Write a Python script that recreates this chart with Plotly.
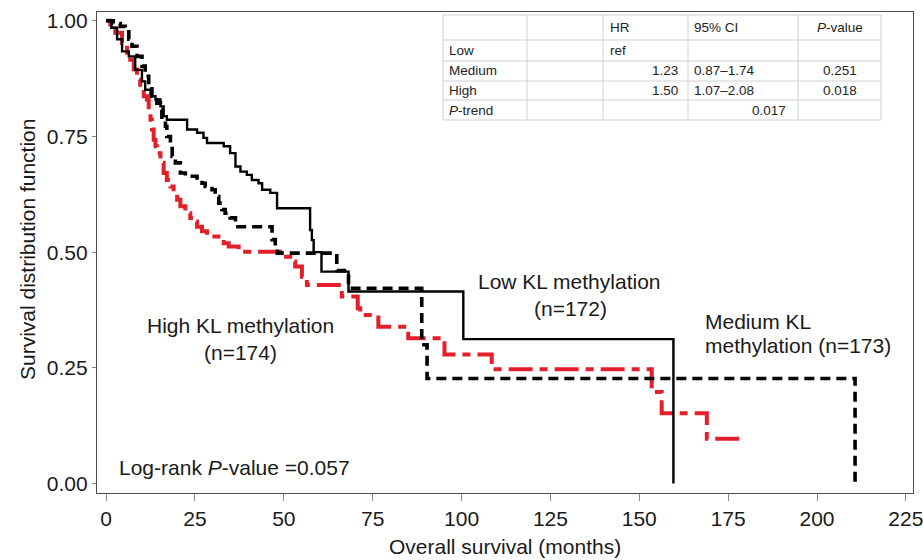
import plotly.graph_objects as go

# ---------------- data ----------------
low_t = [0, 1.5, 3.1, 4.5, 6.4, 8.2, 10.1, 11.0, 12.5, 13.9, 15.3, 16.2, 17.1, 22.8, 25.6,
         27.4, 28.4, 33.1, 34.9, 36.4, 37.8, 39.6, 41.0, 42.9, 43.9, 46.2, 48.1, 57.4, 57.9,
         58.4, 60.6, 68.2, 100.5, 159.6]
low_s = [1.0, 0.985, 0.960, 0.934, 0.923, 0.894, 0.869, 0.851, 0.837, 0.830, 0.815, 0.794,
         0.786, 0.765, 0.758, 0.747, 0.736, 0.729, 0.714, 0.685, 0.674, 0.667, 0.656, 0.649,
         0.635, 0.628, 0.595, 0.548, 0.526, 0.500, 0.458, 0.415, 0.312, 0.0]

med_t = [0, 2.0, 4.0, 5.4, 6.4, 7.3, 8.7, 10.1, 11.0, 12.0, 12.9, 14.3, 15.3, 15.7, 16.7,
         17.1, 18.1, 18.6, 19.5, 20.9, 22.3, 25.6, 27.0, 27.9, 29.8, 30.7, 31.7, 32.6, 33.5,
         34.9, 36.4, 46.7, 47.6, 48.2, 64.9, 68.2, 88.8, 90.3, 210.7]
med_s = [1.0, 0.994, 0.988, 0.981, 0.960, 0.945, 0.923, 0.902, 0.880, 0.858, 0.837, 0.822,
         0.808, 0.786, 0.772, 0.750, 0.729, 0.707, 0.693, 0.671, 0.664, 0.656, 0.649, 0.642,
         0.635, 0.620, 0.606, 0.592, 0.584, 0.574, 0.555, 0.527, 0.509, 0.498, 0.460, 0.422,
         0.300, 0.227, 0.0]

high_t = [0, 1.2, 2.6, 4.5, 5.9, 6.8, 7.8, 8.7, 9.6, 10.6, 11.5, 12.0, 12.5, 12.9, 13.4,
          13.9, 14.3, 15.3, 16.2, 17.1, 18.1, 19.0, 20.0, 20.9, 22.3, 23.7, 24.6, 25.6, 27.0,
          28.4, 31.6, 33.1, 34.5, 37.3, 49.0, 49.9, 51.8, 53.2, 55.1, 56.5, 66.3, 70.8, 71.5,
          76.6, 85.0, 95.2, 108.5, 153.5, 156.3, 169.0, 179.7]
high_s = [1.0, 0.992, 0.974, 0.952, 0.931, 0.916, 0.895, 0.873, 0.851, 0.837, 0.830, 0.808,
          0.786, 0.765, 0.743, 0.729, 0.714, 0.693, 0.671, 0.656, 0.642, 0.631, 0.613, 0.599,
          0.584, 0.574, 0.566, 0.555, 0.545, 0.534, 0.529, 0.519, 0.512, 0.501, 0.494, 0.490,
          0.480, 0.469, 0.447, 0.429, 0.404, 0.379, 0.364, 0.339, 0.314, 0.279, 0.247, 0.198,
          0.152, 0.097, 0.097]

x_ticks = [0, 25, 50, 75, 100, 125, 150, 175, 200, 225]
y_ticks = [0.0, 0.25, 0.50, 0.75, 1.00]
y_tick_labels = ["0.00", "0.25", "0.50", "0.75", "1.00"]

table_header = ["", "", "HR", "95% CI", "<i>P</i>-value"]
table_rows = [
    ["Low", "", "ref", "", ""],
    ["Medium", "", "1.23", "0.87–1.74", "0.251"],
    ["High", "", "1.50", "1.07–2.08", "0.018"],
    ["<i>P</i>-trend", "", "", "0.017", ""],
]

# ---------------- layout geometry ----------------
W, H = 923, 560
L_REF, R_REF, T_REF, B_REF = 97, 913, 12, 493       # plot frame in window pixels
ML, MT = L_REF, T_REF
MR, MB = W - R_REF, H - B_REF
PW, PH = W - ML - MR, H - MT - MB

def pxx(x):   # window pixel -> paper x
    return (x - L_REF) / PW

def pxy(y):   # window pixel -> paper y
    return (B_REF - y) / PH

FONT = "Liberation Sans, Arial, sans-serif"
RED = "#E3202A"

fig = go.Figure()
fig.add_trace(go.Scatter(x=high_t, y=high_s, mode="lines", line_shape="hv",
                         line=dict(color=RED, width=4, dash="8px,7px,24px,7px"),
                         name="High", showlegend=False, hoverinfo="skip"))
fig.add_trace(go.Scatter(x=med_t, y=med_s, mode="lines", line_shape="hv",
                         line=dict(color="black", width=3.6, dash="10px,6px"),
                         name="Medium", showlegend=False, hoverinfo="skip"))
fig.add_trace(go.Scatter(x=low_t, y=low_s, mode="lines", line_shape="hv",
                         line=dict(color="black", width=2.4),
                         name="Low", showlegend=False, hoverinfo="skip"))

fig.update_layout(
    width=W, height=H,
    margin=dict(l=ML, r=MR, t=MT, b=MB, autoexpand=False),
    paper_bgcolor="white", plot_bgcolor="white",
    font=dict(family=FONT, size=21, color="#1a1a1a"),
    xaxis=dict(range=[-2.55, 227.0], tickvals=x_ticks, ticks="outside", ticklen=7,
               tickcolor="#888", tickwidth=1, showline=True, mirror=True,
               linecolor="#4d4d4d", linewidth=1.3, showgrid=False, zeroline=False,
               automargin=False, ticklabeloverflow="allow",
               tickfont=dict(size=21, color="#1a1a1a")),
    yaxis=dict(range=[-0.0205, 1.019], tickvals=y_ticks, ticktext=y_tick_labels,
               ticks="outside", ticklen=4, tickcolor="#888", tickwidth=1,
               showline=True, mirror=True, linecolor="#4d4d4d", linewidth=1.3,
               showgrid=False, zeroline=False, automargin=False,
               ticklabeloverflow="allow",
               tickfont=dict(size=21, color="#1a1a1a")),
)

# ---------------- text annotations on the chart ----------------
def note(x, y, text, xanchor="center", size=21, angle=0):
    fig.add_annotation(x=pxx(x), y=pxy(y), xref="paper", yref="paper", text=text,
                       showarrow=False, xanchor=xanchor, yanchor="middle", textangle=angle,
                       font=dict(family=FONT, size=size, color="#1a1a1a"))

# axis titles
note(505, 546, "Overall survival (months)")
note(27, 250, "Survival distribution function", angle=-90)

note(240.5, 326, "High KL methylation")
note(240, 352, "(n=174)")
note(569, 281, "Low KL methylation")
note(570, 308, "(n=172)")
note(703, 321, "Medium KL", xanchor="left")
note(703, 346, "methylation (n=173)", xanchor="left")
note(117, 467, "Log-rank <i>P</i>-value =0.057", xanchor="left")

# ---------------- HR table ----------------
cols = [443, 527, 603, 688, 798, 881]
rows = [15, 40, 61, 81, 100, 120]
GRID = "#cfcfcf"
fig.add_shape(type="rect", xref="paper", yref="paper",
              x0=pxx(cols[0]), x1=pxx(cols[-1]), y0=pxy(rows[-1]), y1=pxy(rows[0]),
              fillcolor="white", line=dict(color=GRID, width=1), layer="above")
for c in cols[1:-1]:
    fig.add_shape(type="line", xref="paper", yref="paper", x0=pxx(c), x1=pxx(c),
                  y0=pxy(rows[-1]), y1=pxy(rows[0]), line=dict(color=GRID, width=1))
for r in rows[1:-1]:
    fig.add_shape(type="line", xref="paper", yref="paper", x0=pxx(cols[0]), x1=pxx(cols[-1]),
                  y0=pxy(r), y1=pxy(r), line=dict(color=GRID, width=1))

def cell_pos(ci, ri):
    left, right = cols[ci], cols[ci + 1]
    if ci == 0:
        return "left", left + 4
    if ci == 2:
        if ri <= 1:
            return "left", left + 5
        return "right", right - 8
    if ci == 3:
        if ri == 4:
            return "right", right - 10
        return "left", left + 4
    if ci == 4:
        return "center", (left + right) / 2
    return "left", left + 4

all_rows = [table_header] + table_rows
for ri, row in enumerate(all_rows):
    yc = (rows[ri] + rows[ri + 1]) / 2
    for ci, txt in enumerate(row):
        if not txt:
            continue
        anchor, xpos = cell_pos(ci, ri)
        fig.add_annotation(x=pxx(xpos), y=pxy(yc), xref="paper", yref="paper", text=txt,
                           showarrow=False, xanchor=anchor, yanchor="middle",
                           font=dict(family=FONT, size=13.5, color="#222"))

# remove the default page margin so the figure fills the 923x560 window exactly
fig.write_html("out.html", config={"displayModeBar": False},
               post_script="document.body.style.margin='0px';document.body.style.overflow='hidden';")
